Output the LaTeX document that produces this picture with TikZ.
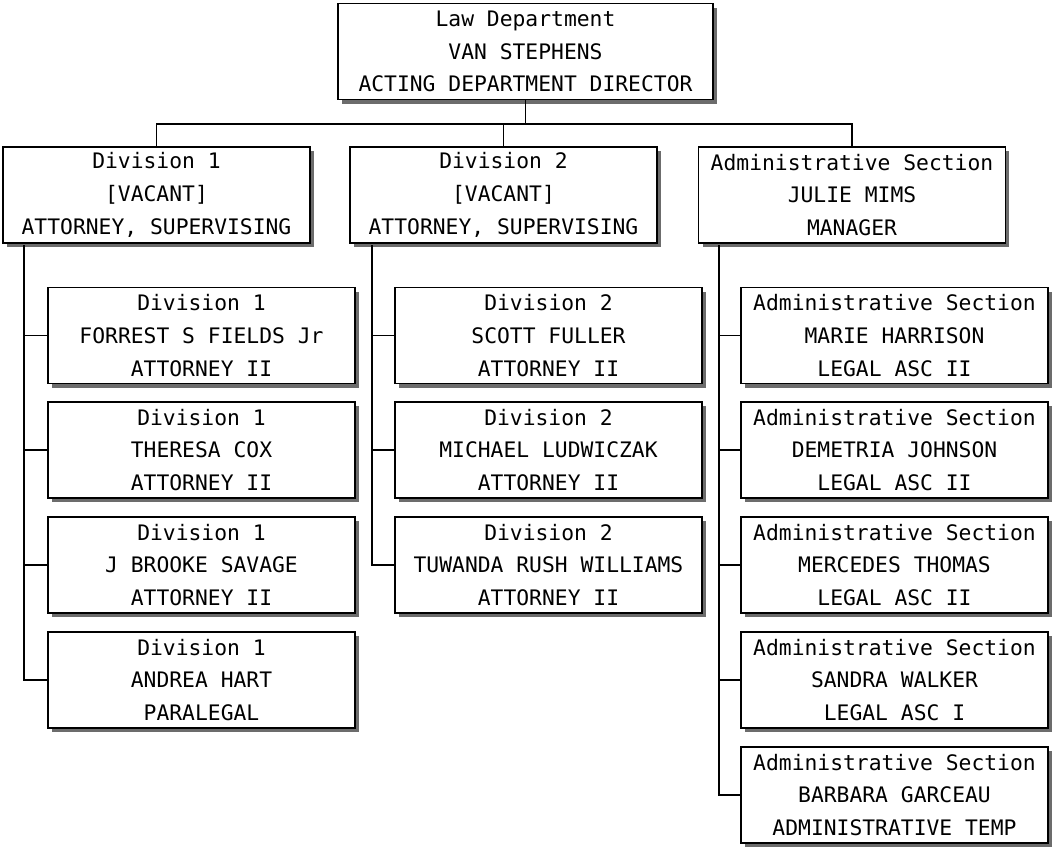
\documentclass[tikz,border=0pt]{standalone}
\usepackage{fontspec}
\setmonofont{DejaVu Sans Mono}
\usetikzlibrary{shadows}

\tikzset{
  orgbox/.style={draw, line width=1.2pt, fill=white, align=center, inner sep=2pt,
    minimum width=230pt, minimum height=72pt,
    font=\ttfamily\fontsize{16}{24.5}\selectfont,
    drop shadow={shadow xshift=3pt, shadow yshift=-3pt, fill=gray!85!black, opacity=1}},
  link/.style={line width=1.2pt}
}

\begin{document}
\begin{tikzpicture}[x=0.75pt, y=-0.75pt]
  \useasboundingbox (0,0) rectangle (1057,850);

  % top level
  \node[orgbox, minimum width=281pt] (top) at (525.5,51.5) {Law Department\\VAN STEPHENS\\ACTING DEPARTMENT DIRECTOR};

  % divisions
  \node[orgbox] (div1) at (156.5,195) {Division 1\\{[}VACANT{]}\\ATTORNEY, SUPERVISING};
  \node[orgbox] (div2) at (503.5,195) {Division 2\\{[}VACANT{]}\\ATTORNEY, SUPERVISING};
  \node[orgbox] (adm) at (852,195) {Administrative Section\\JULIE MIMS\\MANAGER};

  % division 1 staff
  \node[orgbox] (d1a) at (201.5,335.5) {Division 1\\FORREST S FIELDS Jr\\ATTORNEY II};
  \node[orgbox] (d1b) at (201.5,450) {Division 1\\THERESA COX\\ATTORNEY II};
  \node[orgbox] (d1c) at (201.5,565) {Division 1\\J BROOKE SAVAGE\\ATTORNEY II};
  \node[orgbox] (d1d) at (201.5,680) {Division 1\\ANDREA HART\\PARALEGAL};

  % division 2 staff
  \node[orgbox] (d2a) at (548.5,335.5) {Division 2\\SCOTT FULLER\\ATTORNEY II};
  \node[orgbox] (d2b) at (548.5,450) {Division 2\\MICHAEL LUDWICZAK\\ATTORNEY II};
  \node[orgbox] (d2c) at (548.5,565) {Division 2\\TUWANDA RUSH WILLIAMS\\ATTORNEY II};

  % administrative staff
  \node[orgbox] (ada) at (894.5,335.5) {Administrative Section\\MARIE HARRISON\\LEGAL ASC II};
  \node[orgbox] (adb) at (894.5,450) {Administrative Section\\DEMETRIA JOHNSON\\LEGAL ASC II};
  \node[orgbox] (adc) at (894.5,565) {Administrative Section\\MERCEDES THOMAS\\LEGAL ASC II};
  \node[orgbox] (add) at (894.5,680) {Administrative Section\\SANDRA WALKER\\LEGAL ASC I};
  \node[orgbox] (ade) at (894.5,795) {Administrative Section\\BARBARA GARCEAU\\ADMINISTRATIVE TEMP};

  % bus and spines
  \coordinate (bus) at (525.5,124);
  \coordinate (s1) at (24,245);
  \coordinate (s2) at (372,245);
  \coordinate (s3) at (719,245);

  \draw[link] (top.south) -- (bus);
  \draw[link] (div1.north) |- (bus); \draw[link] (div2.north) |- (bus);
  \draw[link] (adm.north) |- (bus);

  \draw[link] (s1) |- (d1a.west); \draw[link] (s1) |- (d1b.west);
  \draw[link] (s1) |- (d1c.west); \draw[link] (s1) |- (d1d.west);

  \draw[link] (s2) |- (d2a.west); \draw[link] (s2) |- (d2b.west);
  \draw[link] (s2) |- (d2c.west);

  \draw[link] (s3) |- (ada.west); \draw[link] (s3) |- (adb.west);
  \draw[link] (s3) |- (adc.west); \draw[link] (s3) |- (add.west);
  \draw[link] (s3) |- (ade.west);
\end{tikzpicture}
\end{document}
